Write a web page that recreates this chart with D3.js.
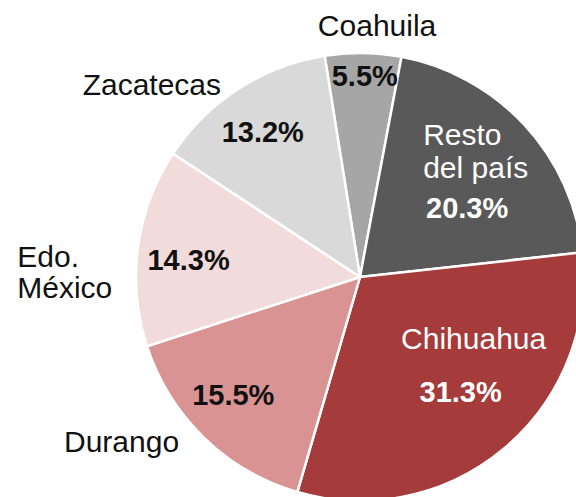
<!DOCTYPE html>
<html>
<head>
<meta charset="utf-8">
<script src="https://cdn.jsdelivr.net/npm/d3@7"></script>
<style>
  html, body { margin: 0; padding: 0; background: #fff; overflow: hidden; }
  svg { display: block; }
  text { font-family: "Liberation Sans", Arial, sans-serif; }
</style>
</head>
<body>
<svg id="chart" width="576" height="497"></svg>
<script>
// ---- data ----
const categories = ["Coahuila", "Resto del país", "Chihuahua", "Durango", "Edo. México", "Zacatecas"];
const values = [5.5, 20.3, 31.3, 15.5, 14.3, 13.2];
const valueLabels = ["5.5%", "20.3%", "31.3%", "15.5%", "14.3%", "13.2%"];
const nameLines = [["Coahuila"], ["Resto", "del país"], ["Chihuahua"], ["Durango"], ["Edo.", "México"], ["Zacatecas"]];

// ---- styles / layout ----
const colors = ["#a6a6a6", "#595959", "#a53b3b", "#d99393", "#f2dcdb", "#d9d9d9"];
const valueColors = ["#111", "#fff", "#fff", "#111", "#111", "#111"];
const nameColors = ["#111", "#fff", "#fff", "#111", "#111", "#111"];
// offsets relative to centroids (inner label ring / outer label ring)
const valueOffset = [[2, 0], [-19, 58], [-10, -7], [-7, 4.5], [-1, 16], [-4, 10]];
const nameInside = [false, true, true, false, false, false];
const nameAnchor = ["middle", "start", "middle", "middle", "start", "middle"];
const nameOffset = [[13.6, 9], [-63, -15], [3, -60], [-64.4, -4.5], [-95, 23.5], [-72.6, 28]];
const nameLineGap = [30, 33, 30, 30, 31, 30];
const valueRadius = [201, 172, 172, 172, 172, 172];

const W = 576, H = 497;
const cx = 360, cy = 277, R = 224;
const startDeg = -9.1;

const svg = d3.select("#chart");
const g = svg.append("g").attr("transform", `translate(${cx},${cy})`);

const pie = d3.pie().sort(null).value(d => d.value)
  .startAngle(startDeg * Math.PI / 180)
  .endAngle(startDeg * Math.PI / 180 + 2 * Math.PI);

const data = categories.map((c, i) => ({ cat: c, value: values[i], i }));
const arcs = pie(data);

const arc = d3.arc().innerRadius(0).outerRadius(R);

g.selectAll("path.slice").data(arcs).join("path")
  .attr("class", "slice")
  .attr("d", arc)
  .attr("fill", d => colors[d.data.i])
  .attr("stroke", "#fff")
  .attr("stroke-width", 2.5)
  .attr("stroke-linejoin", "round");

const ringArc = r => d3.arc().innerRadius(r).outerRadius(r);
const innerRing = ringArc(172);
const outerRing = ringArc(250);

// value labels
arcs.forEach(d => {
  const i = d.data.i;
  const [x, y] = ringArc(valueRadius[i]).centroid(d);
  const off = valueOffset[i];
  let yy = y + off[1];
  if (i === 0) yy = y + 10;
  g.append("text")
    .attr("x", x + off[0])
    .attr("y", yy + (i === 0 ? 0 : 0))
    .attr("text-anchor", "middle")
    .attr("font-size", 29)
    .attr("font-weight", "bold")
    .attr("fill", valueColors[i])
    .text(valueLabels[i]);
});

// category labels
arcs.forEach(d => {
  const i = d.data.i;
  const [x, y] = (nameInside[i] ? innerRing : outerRing).centroid(d);
  const off = nameOffset[i];
  const t = g.append("text")
    .attr("text-anchor", nameAnchor[i])
    .attr("font-size", 30)
    .attr("fill", nameColors[i]);
  nameLines[i].forEach((line, k) => {
    t.append("tspan")
      .attr("x", x + off[0])
      .attr("y", y + off[1] + k * nameLineGap[i])
      .text(line);
  });
});
</script>
</body>
</html>
